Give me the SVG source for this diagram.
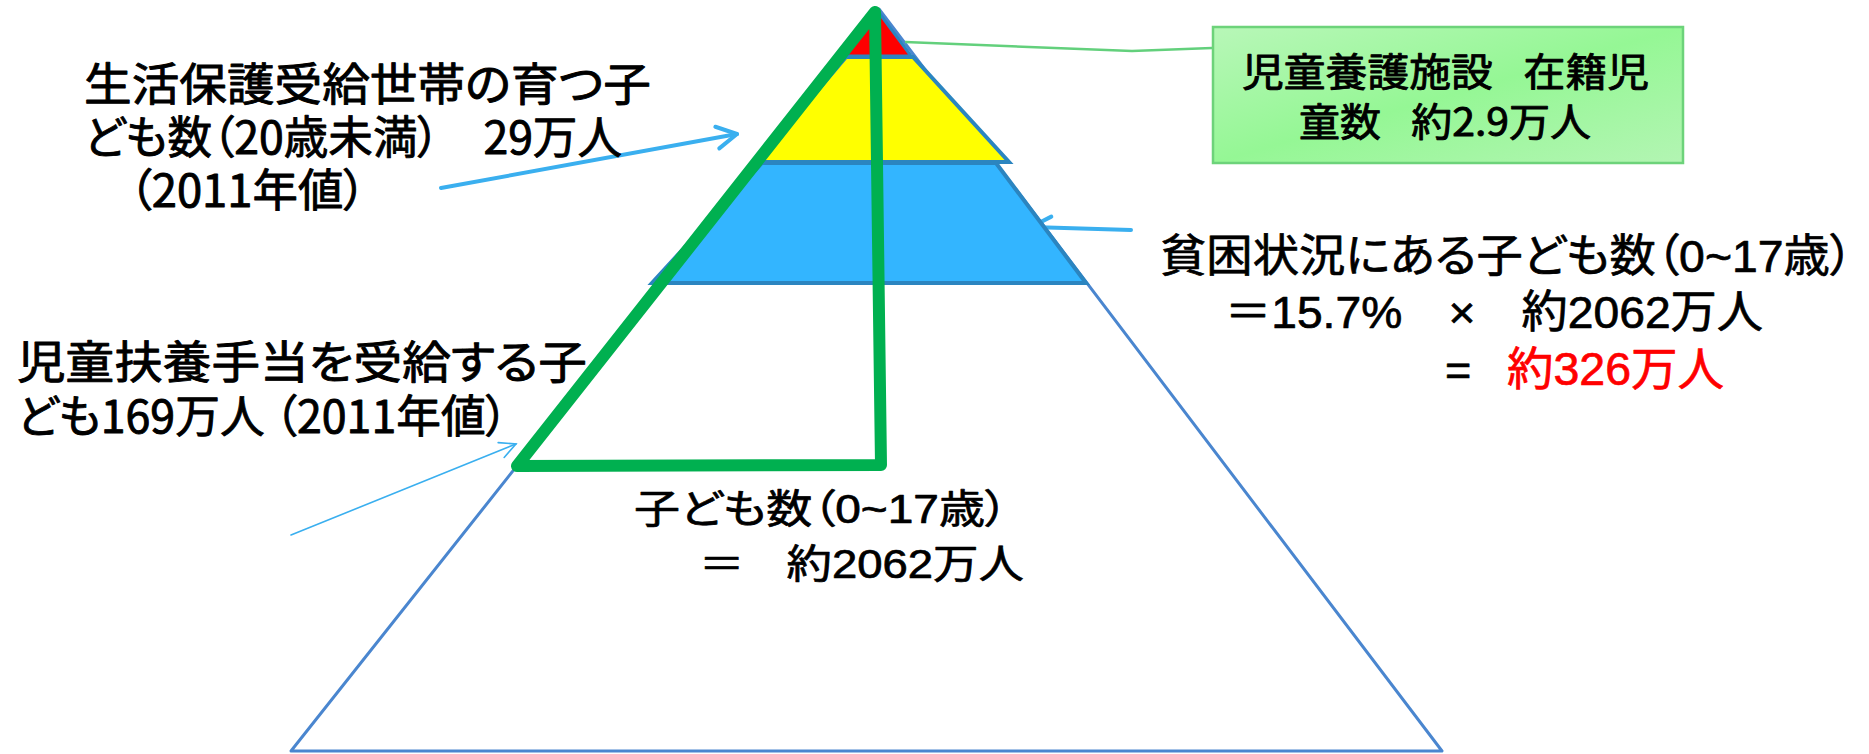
<svg xmlns="http://www.w3.org/2000/svg" width="1869" height="754" viewBox="0 0 1869 754">
<style>
.jp{font-family:"Noto Sans CJK JP","Noto Sans CJK SC",sans-serif;font-feature-settings:"palt" 1;fill:#000;stroke:#000;stroke-width:0.9;stroke-linejoin:round}
.ar{font-family:"Liberation Sans","Noto Sans CJK JP",sans-serif;font-feature-settings:"palt" 1;fill:#000;stroke:#000;stroke-width:0.7;stroke-linejoin:round}
.red{fill:#FF0000;stroke:#FF0000}
.sec{stroke:#2B85C0;stroke-width:4;stroke-linejoin:miter}
.arrow{fill:none;stroke:#3AAFEF;stroke-linecap:round}
</style>
<defs>
<linearGradient id="boxg" x1="0" y1="0" x2="1" y2="1">
<stop offset="0" stop-color="#B8F7B8"/>
<stop offset="0.5" stop-color="#95F795"/>
<stop offset="1" stop-color="#B3F5B3"/>
</linearGradient>
<marker id="ahThick" markerUnits="userSpaceOnUse" viewBox="-26 -14 30 28" refX="0" refY="0" markerWidth="30" markerHeight="28" orient="auto" overflow="visible">
<path d="M-20,-11 L0,0 L-20,11" fill="none" stroke="#3AAFEF" stroke-width="4" stroke-linecap="round" stroke-linejoin="round"/>
</marker>
<marker id="ahThin" markerUnits="userSpaceOnUse" viewBox="-20 -10 24 20" refX="0" refY="0" markerWidth="24" markerHeight="20" orient="auto" overflow="visible">
<path d="M-16,-8 L0,0 L-16,8" fill="none" stroke="#3AAFEF" stroke-width="1.6" stroke-linecap="round"/>
</marker>
</defs>
<rect width="1869" height="754" fill="#FFFFFF"/>

<g id="pyramid-base">
<polygon points="879,9 1442,751 291,751" fill="#FFFFFF" stroke="#4A86CF" stroke-width="3" stroke-linejoin="round"/>
</g>

<g id="connectors">
<polyline points="905,42 1132,51 1212,48" fill="none" stroke="#63D07C" stroke-width="2.5"/>
<line class="arrow" x1="441" y1="188" x2="737" y2="134" stroke-width="4" marker-end="url(#ahThick)"/>
<line class="arrow" x1="1131" y1="230" x2="1031" y2="227" stroke-width="4" marker-end="url(#ahThick)"/>
<line class="arrow" x1="291" y1="535" x2="516" y2="444" stroke-width="1.6" marker-end="url(#ahThin)"/>
</g>

<g id="sec-poverty">
<polygon class="sec" points="762,163 996,163 1086,283 652,283" fill="#33B5FF"/>
</g>
<g id="sec-welfare">
<polygon class="sec" points="846,57 913,57 1009,162 757,162" fill="#FFFF00"/>
</g>
<g id="sec-facility">
<polygon points="877,10 911,56 846,56" fill="#FF0000" stroke="#2B85C0" stroke-width="3" stroke-linejoin="round"/>
</g>

<g id="child-allowance-outline">
<polyline points="875,12 517,466 881,465 875,12" fill="none" stroke="#00B050" stroke-width="12" stroke-linejoin="round" stroke-linecap="round"/>
</g>

<g id="label-welfare">
<text class="jp" x="84" y="101" font-size="45" textLength="567" lengthAdjust="spacingAndGlyphs">生活保護受給世帯の育つ子</text>
<text class="jp" x="84" y="154" font-size="45" textLength="538" lengthAdjust="spacingAndGlyphs" style="word-spacing:34px">ども数（20歳未満） 29万人</text>
<text class="jp" x="129" y="207" font-size="45" textLength="237" lengthAdjust="spacingAndGlyphs">（2011年値）</text>
</g>

<g id="label-allowance">
<text class="jp" x="17" y="379" font-size="45" textLength="570" lengthAdjust="spacingAndGlyphs">児童扶養手当を受給する子</text>
<text class="jp" x="17" y="433" font-size="45" textLength="491" lengthAdjust="spacingAndGlyphs">ども169万人 （2011年値）</text>
</g>

<g id="label-poverty">
<text class="ar" x="1160" y="272" font-size="45" textLength="693" lengthAdjust="spacingAndGlyphs">貧困状況にある子ども数（0~17歳）</text>
<text class="ar" x="1225" y="328" font-size="45" textLength="538" lengthAdjust="spacingAndGlyphs">＝15.7%　×　約2062万人</text>
<text class="ar" x="1445" y="385" font-size="45">=</text>
<text class="ar red" x="1507" y="385" font-size="46" textLength="217" lengthAdjust="spacingAndGlyphs">約326万人</text>
</g>

<g id="label-children">
<text class="ar" x="634" y="523" font-size="40" textLength="374" lengthAdjust="spacingAndGlyphs">子ども数（0~17歳）</text>
<text class="ar" x="699" y="578" font-size="40" textLength="325" lengthAdjust="spacingAndGlyphs" style="word-spacing:26px">＝ 約2062万人</text>
</g>

<g id="box-facility">
<rect x="1213" y="27" width="470" height="136" fill="url(#boxg)" stroke="#6DD37A" stroke-width="2.5"/>
<text class="jp" x="1242" y="86" font-size="39" textLength="407" lengthAdjust="spacingAndGlyphs" style="word-spacing:20px">児童養護施設 在籍児</text>
<text class="jp" x="1299" y="136" font-size="39" textLength="292" lengthAdjust="spacingAndGlyphs" style="word-spacing:20px">童数 約2.9万人</text>
</g>
</svg>
